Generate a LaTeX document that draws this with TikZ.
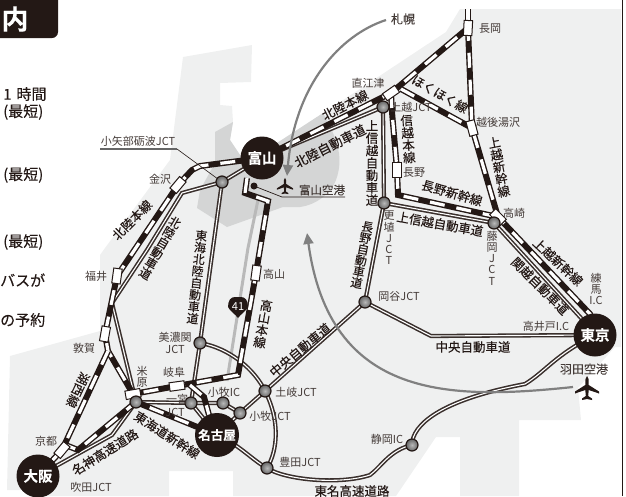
\documentclass[tikz,border=0pt]{standalone}
\usepackage{fontspec}
\setmainfont{Noto Sans CJK JP}[FakeBold=0.14,BoldFont={Noto Sans CJK JP Bold}]
\newfontfamily\lightfont{Noto Sans CJK JP}
\usetikzlibrary{arrows.meta}
\pgfdeclarelayer{land}
\pgfdeclarelayer{lines}
\pgfsetlayers{land,lines,main}
\definecolor{landc}{HTML}{EFF0F0}
\definecolor{prefc}{HTML}{D4D5D5}
\definecolor{inkc}{HTML}{231815}
\newcommand{\fs}[1]{\fontsize{#1}{#1}\selectfont}
\newcommand{\planeshape}{(0,-12) -- (1.5,-9) -- (1.7,-3) -- (12,3.5) -- (12,5.5) -- (1.7,2) -- (1.2,8) -- (5,10.5) -- (5,12) -- (0,11) -- (-5,12) -- (-5,10.5) -- (-1.2,8) -- (-1.7,2) -- (-12,5.5) -- (-12,3.5) -- (-1.7,-3) -- (-1.5,-9) -- cycle}
\tikzset{
  x=1pt,y=-1pt,
  rail/.style={draw=white,line width=3.2pt,dash pattern=on 15pt off 12pt,
    preaction={draw=inkc,line width=6pt,solid}},
  road/.style={draw=white,line width=1.1pt,
    preaction={draw=inkc!90,line width=4.2pt}},
  ball/.style={circle,draw=inkc,line width=1.2pt,inner color=gray!55,outer color=gray!80!black,
    minimum size=12pt,inner sep=0pt},
  city/.style={circle,fill=inkc,text=white,font=\fs{14.5}\bfseries,minimum size=43pt,inner sep=0pt},
  stn/.style={rectangle,draw=inkc,fill=white,line width=1pt,minimum width=8.5pt,minimum height=15pt,inner sep=0pt},
  lbl/.style={text=inkc!85,font=\fs{11}\lightfont,inner sep=0pt},
  rlbl/.style={text=inkc,font=\fs{12.5},inner sep=0pt},
  vlbl/.style={text=inkc,font=\fontsize{12.5}{12.4}\selectfont,align=center,inner sep=0pt},
  vsmall/.style={text=inkc!85,font=\fontsize{11}{11.2}\selectfont\lightfont,align=center,inner sep=0pt},
  sidetxt/.style={text=inkc,font=\fs{15},inner sep=0pt,anchor=west},
  flyarrow/.style={draw=gray,line width=2.2pt},
}
\begin{document}
\begin{tikzpicture}
\useasboundingbox (0,0) rectangle (626,496);
\clip (0,0) rectangle (626,496);
\begin{pgfonlayer}{land}
  \fill[landc] (460,9) -- (621,9) -- (621,347) -- (615,347) -- (578,388) -- (581,420) -- (519,420) -- (519,496)
    -- (460,496) -- (460,437) -- (436,437) -- (396,496) -- (233,496) -- (233,471) -- (169,471) -- (169,496)
    -- (30,496) -- (30,490) -- (7,490) -- (10,356) -- (100,331) -- (100,255) -- (105,248) -- (170,160) -- (183,57)
    -- (252,45) -- (251,82) -- (220,83) -- (220,105) -- (232,106) -- (233,122) -- (230,140) -- (240,155)
    -- (262,160) -- (277,143) -- (313,120) -- (446,32) -- cycle;
  \fill[prefc] (215,132) -- (233,122) -- (230,140) -- (240,155) -- (262,160) -- (277,143) -- (323,113)
    .. controls (335,135) and (345,155) .. (336,180) .. controls (330,195) and (315,205) .. (300,207)
    -- (283,207) -- (227,227) -- (197,208) -- (200,190) -- (215,163) -- cycle;
  \draw[draw=inkc,line width=1pt] (622,0) -- (622,496);
  \draw[gray!55,line width=3pt] (258,200) -- (248,248) -- (227,381);
\end{pgfonlayer}

% stations and junctions
\node[city] (toyama) at (262,158) {富山};
\node[city] (tokyo) at (595,335) {東京};
\node[city] (osaka) at (38,476) {大阪};
\node[city,minimum size=44pt,font=\fs{12.5}\bfseries] (nagoya) at (217,435) {名古屋};

\node[stn,rotate=-3] (nagaoka) at (468,28) {};
\node[stn,rotate=-55] (naoetsu) at (391,93) {};
\node[stn,rotate=15] (yuzawa) at (472,128) {};
\node[stn] (nagano) at (397,170) {};
\node[stn,rotate=45] (takasaki) at (498,217) {};
\node[stn,rotate=-40] (kanazawa) at (178,185) {};
\node[stn,rotate=-8] (fukui) at (117,276) {};
\node[stn,rotate=-10] (tsuruga) at (105,334) {};
\node[stn,rotate=-40] (kyoto) at (62,450) {};
\node[stn,rotate=-80] (maibara) at (133,394) {};
\node[stn,rotate=-82] (gifu) at (177,386) {};
\node[stn,rotate=-8] (takayama) at (256,273) {};

\node[ball] (joetsu) at (383,107) {};
\node[ball] (koshoku) at (384,203) {};
\node[ball] (fujioka) at (494,223) {};
\node[ball] (okaya) at (365,302) {};
\node[ball] (toki) at (265,391) {};
\node[ball] (minokan) at (200,343) {};
\node[ball] (oyabe) at (222,182) {};
\node[ball] (ichinomiya) at (191,403) {};
\node[ball] (komakiic) at (223,403) {};
\node[ball] (komakijct) at (240,413) {};
\node[ball] (toyota) at (267,468) {};
\node[ball] (shizuoka) at (412,445) {};
\node[ball] (maibarajct) at (136,402) {};

\node[circle,fill=inkc,minimum size=7pt,inner sep=0pt] (airdot) at (254,186) {};

% waypoints
\coordinate (ntop) at (468,9);
\coordinate (hk1) at (401,89);
\coordinate (ts1) at (392,112);
\coordinate (nk1) at (398,195);
\coordinate (tk1) at (590,314);
\coordinate (tk2) at (581,318);
\coordinate (r1) at (200,166);
\coordinate (r2) at (192,170);
\coordinate (r3) at (108,351);
\coordinate (r4) at (68,446);
\coordinate (r5) at (78,450);
\coordinate (r6) at (238,375);
\coordinate (r7) at (268,201);
\coordinate (r8) at (245,193);
\coordinate (r9) at (247,178);
\coordinate (g1) at (190,385);
\coordinate (g2) at (204,397);
\coordinate (g3) at (209,415);
\coordinate (h1) at (182,193);
\coordinate (h2) at (147,250);
\coordinate (h3) at (112,303);
\coordinate (c1) at (431,336);
\coordinate (m1) at (112,435);
\coordinate (e1) at (370,475);
\coordinate (e2) at (525,384);
\coordinate (t1) at (345,197);
\coordinate (t2) at (282,197);
\coordinate (o1) at (100,149);
\coordinate (o2) at (177,149);
\coordinate (sap2) at (287,176);
\coordinate (han1) at (573,387);
\coordinate (han2) at (307,233);

\begin{pgfonlayer}{lines}
  % roads
  \draw[road] (toyama.center) -- (oyabe.center) -- (h1) -- (h2) -- (h3) -- (maibarajct.center);
  \draw[road] (joetsu.center) -- (toyama.center);
  \draw[road] (joetsu.center) -- (koshoku.center) -- (fujioka.center) -- (tk2) -- (tokyo.center);
  \draw[road] (koshoku.center) -- (okaya.center) -- (toki.center) -- (komakijct.center) -- (komakiic.center) -- (ichinomiya.center) -- (maibarajct.center);
  \draw[road] (okaya.center) -- (c1) -- (tokyo.center);
  \draw[road] (oyabe.center) -- (minokan.center) -- (ichinomiya.center) -- (nagoya.center);
  \draw[road] (minokan.center) .. controls (230,348) and (255,370) .. (toki.center);
  \draw[road] (toki.center) .. controls (280,420) and (278,450) .. (toyota.center);
  \draw[road] (komakijct.center) -- (nagoya.center) .. controls (240,445) and (252,460) .. (toyota.center);
  \draw[road] (toyota.center) .. controls (285,480) and (340,485) .. (e1) .. controls (382,466) and (390,450) .. (shizuoka.center);
  \draw[road] (shizuoka.center) .. controls (412,425) and (440,400) .. (e2) .. controls (545,372) and (555,355) .. (tokyo.center);
  \draw[road] (osaka.center) -- (m1) -- (maibarajct.center);
  % rails
  \draw[rail] (ntop) -- (nagaoka.center);
  \draw[rail] (toyama.center) -- (naoetsu.center) -- (nagaoka.center) -- (yuzawa.center) -- (takasaki.center) -- (tk1) -- (tokyo.center);
  \draw[rail] (hk1) -- (yuzawa.center);
  \draw[rail] (naoetsu.center) -- (ts1) -- (nagano.center) -- (nk1) -- (takasaki.center);
  \draw[rail] (toyama.center) -- (r1) -- (r2) -- (kanazawa.center) -- (fukui.center) -- (tsuruga.center) -- (r3) -- (maibara.center);
  \draw[rail] (r3) -- (kyoto.center) -- (osaka.center);
  \draw[rail] (kyoto.center) -- (r4) -- (r5) -- (maibarajct.center) -- (nagoya.center);
  \draw[rail] (r9) -- (r8) -- (r7) -- (takayama.center) -- (r6) -- (gifu.center) -- (maibara.center);
  \draw[rail] (g1) -- (g2) -- (g3);
  % flight paths
  \draw[flyarrow,-{Triangle[length=11pt,width=10pt]}] (386,20) .. controls (340,35) and (295,85) .. (sap2);
  \draw[flyarrow,-{Triangle[length=11pt,width=10pt]}] (han1) .. controls (450,400) and (330,400) .. (han2);
  % leaders
  \draw[inkc,line width=.7pt] (airdot.center) -- (t2) -- (t1);
  \draw[gray!80!black,line width=1.2pt] (o1) -- (o2);
  \draw[inkc,line width=.6pt] (o2) -- (oyabe.center);
\end{pgfonlayer}

% planes
\fill[inkc,shift={(587,388)},scale=1] \planeshape;
\fill[inkc,shift={(285,186)},scale=.68] \planeshape;

% shield
\fill[inkc] (228,307) .. controls (228,300) and (231,297) .. (235,297) -- (241,297) .. controls (245,297) and (248,300) .. (248,307) .. controls (246,311) and (241,314) .. (238,318) .. controls (235,314) and (230,311) .. (228,307) -- cycle;
\node[text=white,font=\fs{11}\lightfont,inner sep=0pt] (route) at (238,307) {41};

% header and cropped side text
\fill[inkc,rounded corners=6pt] (-12,-12) rectangle (58,38);
\node[text=white,font=\fs{27}\bfseries,inner sep=0pt] (hdr) at (15,19) {内};
\node[sidetxt] (s1) at (3,94) {1\,\,時間};
\node[sidetxt] (s2) at (3,112) {(最短)};
\node[sidetxt] (s3) at (3,175) {(最短)};
\node[sidetxt] (s4) at (3,242) {(最短)};
\node[sidetxt] (s5) at (0,280) {バスが};
\node[sidetxt] (s6) at (0,320) {の予約};

% labels
\node[lbl,font=\fs{12}] (sapporo) at (403,19) {札幌};
\node[lbl] (l1) at (490,29) {長岡};
\node[lbl] (l2) at (368,83) {直江津};
\node[lbl] (l3) at (411,107) {上越JCT};
\node[rlbl,rotate=-30] (l4) at (440,94) {ほくほく線};
\node[lbl] (l5) at (498,122) {越後湯沢};
\node[rlbl,rotate=27] (l6) at (345,105) {北陸本線};
\node[rlbl,font=\fs{13},rotate=27] (l7) at (330,146) {北陸自動車道};
\node[vlbl,rotate=4] (l8) at (408,139) {信\\越\\本\\線};
\node[vlbl] (l9) at (372,163) {上\\信\\越\\自\\動\\車\\道};
\node[lbl] (l10) at (414,173) {長野};
\node[rlbl,rotate=-16] (l11) at (452,193) {長野新幹線};
\node[vlbl,rotate=11] (l12) at (499,167) {上\\越\\新\\幹\\線};
\node[lbl] (l13) at (514,213) {高崎};
\node[rlbl,rotate=-10] (l14) at (440,224) {上信越自動車道};
\node[vsmall] (l15) at (389,238) {更\\埴\\J\\C\\T};
\node[vsmall] (l16) at (492,258) {藤\\岡\\J\\C\\T};
\node[vlbl,font=\fontsize{12}{11.4}\selectfont,rotate=-11] (l17) at (362,255) {長\\野\\自\\動\\車\\道};
\node[lbl] (l18) at (399,296) {岡谷JCT};
\node[rlbl,font=\fs{12.5}] (l19) at (473,347) {中央自動車道};
\node[lbl] (l20) at (546,326) {高井戸I.C};
\node[vsmall] (l21) at (596,289) {練\\馬\\I.C};
\node[rlbl,rotate=-45] (l22) at (540,286) {関越自動車道};
\node[rlbl,rotate=-43] (l23) at (558,262) {上越新幹線};
\node[lbl,font=\fs{12}] (l24) at (584,369) {羽田空港};
\node[lbl] (l25) at (387,439) {静岡IC};
\node[rlbl,font=\fs{12.5}] (l26) at (352,491) {東名高速道路};
\node[lbl] (l27) at (300,462) {豊田JCT};
\node[lbl] (l28) at (296,392) {土岐JCT};
\node[lbl] (l29) at (270,416) {小牧JCT};
\node[lbl] (l30) at (224,392) {小牧IC};
\node[lbl] (l31) at (174,372) {岐阜};
\node[vsmall] (l32) at (142,377) {米\\原};
\node[lbl,align=center,font=\fontsize{11}{12.5}\selectfont\lightfont] (l33) at (175,343) {美濃関\\JCT};
\node[lbl] (l34) at (177,399) {一宮};
\node[lbl] (l35) at (175,412) {JCT};
\node[rlbl,rotate=-33] (l36) at (167,435) {東海道新幹線};
\node[rlbl,rotate=32] (l37) at (105,452) {名神高速道路};
\node[lbl] (l38) at (91,487) {吹田JCT};
\node[lbl] (l39) at (46,441) {京都};
\node[rlbl,rotate=-115] (l40) at (78,390) {湖西線};
\node[lbl] (l41) at (84,348) {敦賀};
\node[lbl] (l42) at (96,276) {福井};
\node[lbl] (l43) at (160,179) {金沢};
\node[lbl] (l44) at (274,274) {高山};
\node[vlbl,rotate=-10] (l45) at (263,324) {高\\山\\本\\線};
\node[vlbl,font=\fontsize{12}{11.9}\selectfont,rotate=-6] (l46) at (197,277) {東\\海\\北\\陸\\自\\動\\車\\道};
\node[vlbl,font=\fontsize{12}{11.8}\selectfont,rotate=-30] (l47) at (160,248) {北\\陸\\自\\動\\車\\道};
\node[rlbl,rotate=45] (l48) at (132,220) {北陸本線};
\node[rlbl,rotate=40] (l49) at (300,350) {中央自動車道};
\node[lbl] (l50) at (138,141) {小矢部砺波JCT};
\node[lbl,font=\fs{11.5}] (l51) at (322,190) {富山空港};
\end{tikzpicture}
\end{document}
